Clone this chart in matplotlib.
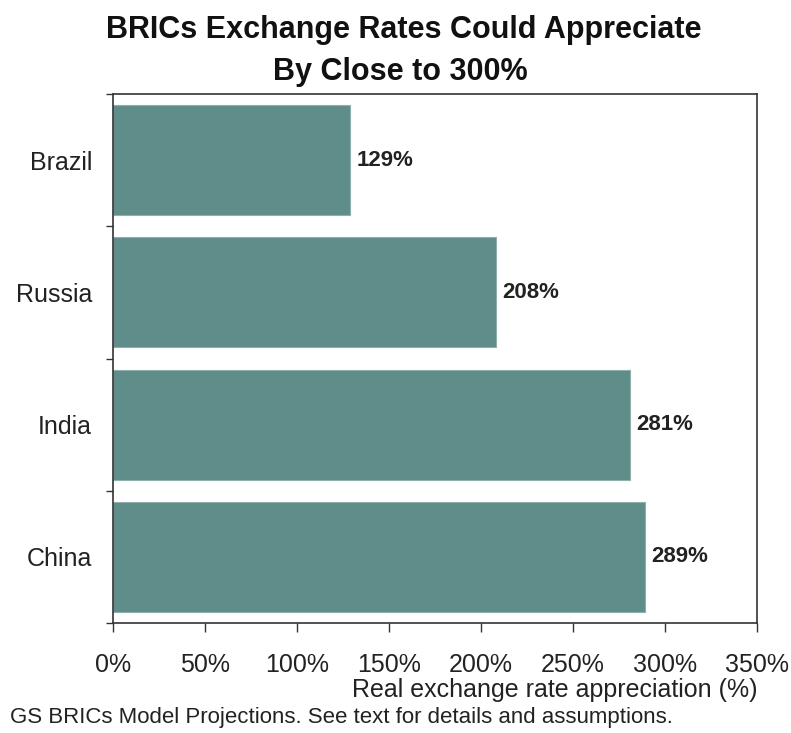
import matplotlib
matplotlib.use("Agg")
import matplotlib.pyplot as plt
from matplotlib.ticker import FixedLocator, FuncFormatter
import numpy as np

countries = ["Brazil", "Russia", "India", "China"]
values = [129, 208, 281, 289]
xticks = [0, 50, 100, 150, 200, 250, 300, 350]

plt.rcParams['font.family'] = ['Liberation Sans', 'DejaVu Sans']

fig = plt.figure(figsize=(7.91, 7.33), dpi=100)
ax = fig.add_axes([113/791, 1-623/733, (757-113)/791, (623-94)/733])

y = np.arange(len(countries))
ax.barh(y, values, height=0.83, color="#5F8D8A", edgecolor="#8FB0AD", linewidth=0.8)
ax.set_ylim(len(countries) - 0.5, -0.5)
ax.set_xlim(0, 350)

ax.set_yticks(y)
ax.set_yticklabels(countries, fontsize=18, color="#222222")
ax.yaxis.set_minor_locator(FixedLocator(np.arange(-0.5, len(countries), 1.0)))
ax.tick_params(axis='y', which='major', length=0, pad=15)
ax.tick_params(axis='y', which='minor', length=5, width=1, color="#333333", direction='out')

ax.set_xticks(xticks)
ax.xaxis.set_major_formatter(FuncFormatter(lambda v, p: f"{int(v)}%"))
ax.tick_params(axis='x', which='major', length=6.5, width=1, color="#333333", direction='out',
               pad=15, labelsize=18, labelcolor="#222222")

for s in ax.spines.values():
    s.set_color("#333333")
    s.set_linewidth(1.2)

for yi, v in zip(y, values):
    ax.text(v + 3.3, yi, f"{v}%", va='center', ha='left', fontsize=16, fontweight='bold', color="#222222")

fig.text(0.510, 1-30/733, "BRICs Exchange Rates Could Appreciate", ha='center', va='center',
         fontsize=22, fontweight='bold', color="#111111")
fig.text(0.506, 1-72/733, "By Close to 300%", ha='center', va='center',
         fontsize=22, fontweight='bold', color="#111111")

fig.text(757/791, 1-690/733, "Real exchange rate appreciation (%)", ha='right', va='center',
         fontsize=18, color="#222222")
fig.text(10/791, 1-718/733, "GS BRICs Model Projections. See text for details and assumptions.",
         ha='left', va='center', fontsize=16, color="#222222")

fig.savefig("out.png", dpi=100)
